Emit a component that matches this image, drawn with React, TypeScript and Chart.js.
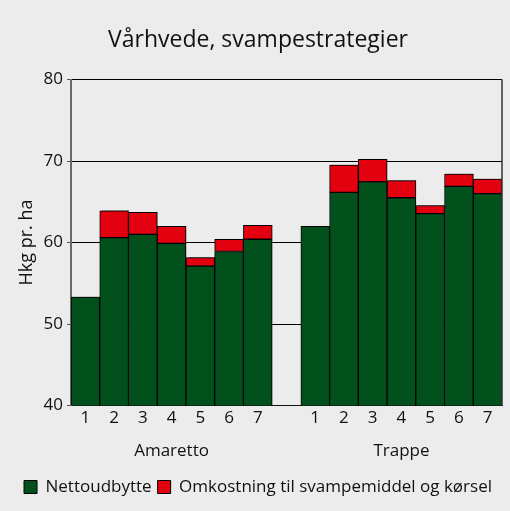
import React, { useEffect, useRef } from "react";
import { Chart, registerables } from "chart.js";

Chart.register(...registerables);

const groups = ["Amaretto", "Trappe"];
const levels = ["1", "2", "3", "4", "5", "6", "7"];
const amarettoNet = [53.3, 60.6, 61.0, 59.9, 57.1, 58.9, 60.4];
const amarettoCost = [null, 3.3, 2.7, 2.1, 1.05, 1.5, 1.7];
const trappeNet = [62.0, 66.15, 67.45, 65.5, 63.55, 66.9, 66.0];
const trappeCost = [null, 3.35, 2.75, 2.1, 1.0, 1.5, 1.8];
const yTicks = [40, 50, 60, 70, 80];
const seriesNames = ["Nettoudbytte", "Omkostning til svampemiddel og kørsel"];
const titleText = "Vårhvede, svampestrategier";
const yTitle = "Hkg pr. ha";

const FONT = "'Open Sans', sans-serif";
const GREEN = "#02501c";
const RED = "#e3000f";

function buildLabels(): (string | string[])[] {
  const out: (string | string[])[] = [];
  groups.forEach((g, gi) => {
    if (gi > 0) out.push("");
    levels.forEach((l, li) => {
      out.push(li === 3 ? [l, "", g] : l);
    });
  });
  return out;
}

const labels = buildLabels();
const netData = [...amarettoNet, null, ...trappeNet];
const costData = [...amarettoCost, null, ...trappeCost];

const shadowPlugin = {
  id: "barShadow",
  beforeDatasetsDraw(chart: any) {
    const c = chart.ctx;
    c.save();
    c.shadowColor = "rgba(0,0,0,0.45)";
    c.shadowBlur = 1.5;
    c.shadowOffsetX = 2;
    c.shadowOffsetY = -1;
  },
  afterDatasetsDraw(chart: any) {
    const c = chart.ctx;
    c.restore();
    const a = chart.chartArea;
    c.save();
    c.strokeStyle = "#333";
    c.lineWidth = 1.5;
    c.beginPath();
    c.moveTo(a.right, a.top);
    c.lineTo(a.right, a.bottom);
    c.stroke();
    c.restore();
  },
};

export default function App() {
  const ref = useRef<HTMLCanvasElement | null>(null);
  useEffect(() => {
    document.body.style.margin = "0";
    document.body.style.background = "#ececec";
    const chart = new Chart(ref.current as HTMLCanvasElement, {
      type: "bar",
      data: {
        labels,
        datasets: [
          {
            label: seriesNames[0],
            data: netData as any,
            backgroundColor: GREEN,
            borderColor: "#000",
            borderWidth: 1,
            borderSkipped: false,
            barPercentage: 1,
            categoryPercentage: 1,
          },
          {
            label: seriesNames[1],
            data: costData as any,
            backgroundColor: RED,
            borderColor: "#000",
            borderWidth: 1,
            borderSkipped: false,
            barPercentage: 1,
            categoryPercentage: 1,
          },
        ],
      },
      options: {
        animation: false,
        responsive: false,
        layout: { padding: { left: 14, right: 8, top: 0, bottom: 5.5 } },
        plugins: {
          title: {
            display: true,
            text: titleText,
            color: "#111",
            font: { family: FONT, size: 23, weight: "normal" },
            padding: { top: 27, bottom: 25 },
          },
          legend: {
            position: "bottom",
            labels: {
              color: "#111",
              font: { family: FONT, size: 17 },
              boxWidth: 13,
              boxHeight: 13,
              padding: 6,
              useBorderRadius: false,
              generateLabels: (ch: any) =>
                ch.data.datasets.map((d: any, i: number) => ({
                  text: d.label,
                  fillStyle: d.backgroundColor,
                  strokeStyle: "#000",
                  lineWidth: 1,
                  datasetIndex: i,
                  fontColor: "#111",
                })),
            },
          },
          tooltip: { enabled: false },
        },
        scales: {
          x: {
            stacked: true,
            grid: { display: false },
            border: { display: true, color: "#111", width: 1 },
            ticks: {
              color: "#111",
              font: { family: FONT, size: 17, lineHeight: 0.97 },
              padding: -4,
              maxRotation: 0,
              autoSkip: false,
            },
            afterFit: (s: any) => {
              s.height = 67;
            },
          },
          y: {
            stacked: true,
            min: yTicks[0],
            max: yTicks[yTicks.length - 1],
            afterBuildTicks: (s: any) => {
              s.ticks = yTicks.map((v) => ({ value: v }));
            },
            grid: {
              color: "#000",
              lineWidth: 1,
              tickLength: 4,
              tickColor: "#555",
            },
            border: { display: true, color: "#6a6a6a", width: 2 },
            ticks: {
              color: "#111",
              font: { family: FONT, size: 17 },
              padding: 4,
            },
            title: {
              display: true,
              text: yTitle,
              color: "#111",
              font: { family: FONT, size: 18 },
              padding: { top: 2, bottom: 0 },
            },
            afterFit: (s: any) => {
              s.width = 57;
            },
          },
        },
      },
      plugins: [shadowPlugin],
    });
    return () => chart.destroy();
  }, []);
  return (
    <div style={{ width: 510, height: 511, background: "#ececec" }}>
      <canvas ref={ref} width={510} height={511} />
    </div>
  );
}
